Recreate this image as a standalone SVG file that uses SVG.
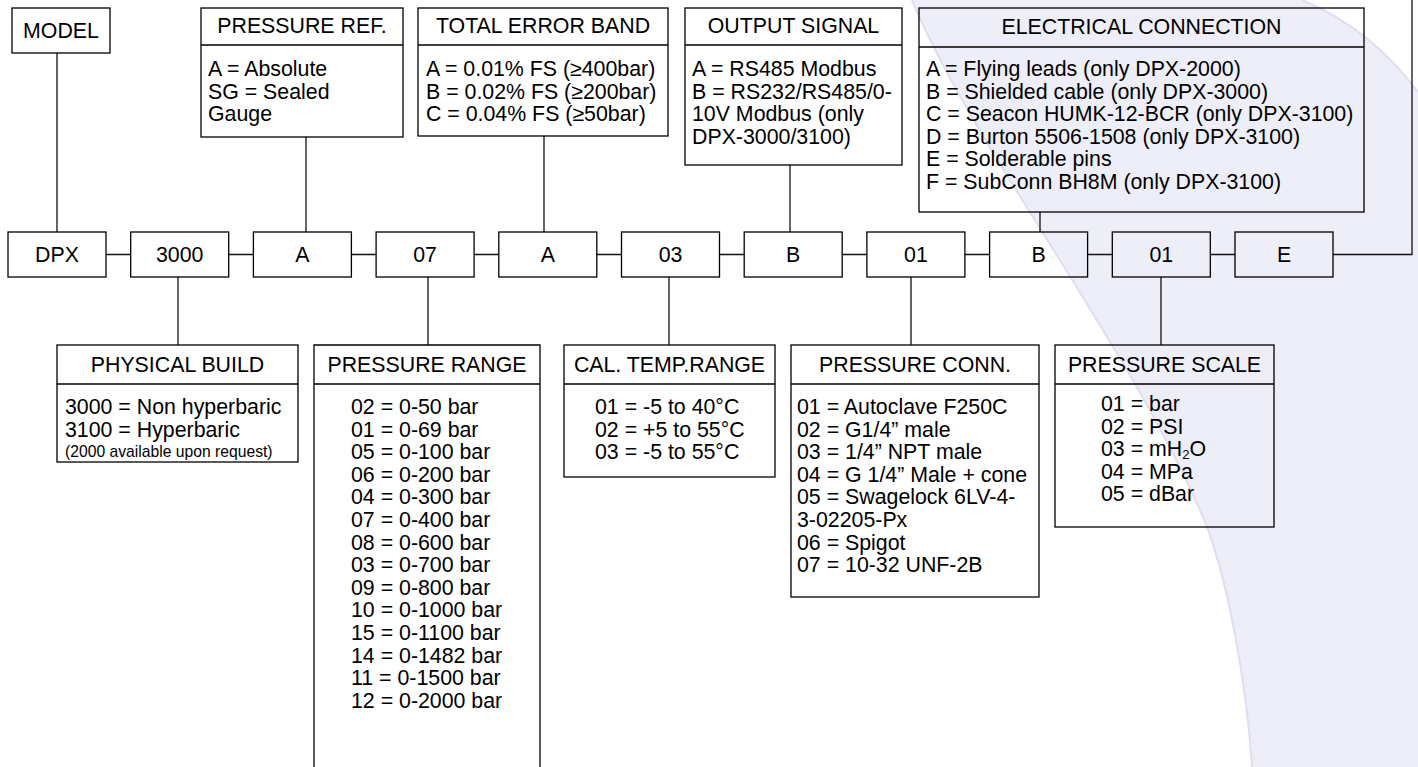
<svg xmlns="http://www.w3.org/2000/svg" width="1418" height="767" viewBox="0 0 1418 767">
<style>
.box{fill:none;stroke:#000;stroke-width:1.3}
.t{font-family:"Liberation Sans",Arial,sans-serif;font-size:21.33px;fill:#000}
.c{text-anchor:middle}
.s{font-size:15.7px}
.conn{stroke:#111;stroke-width:1.3;fill:none}
.edge{fill:none;stroke:#DEDEF2;stroke-width:2}
</style>
<rect x="0" y="0" width="1418" height="767" fill="#fff"/>
<path d="M912 0 C975 150 1120 330 1200 510 C1230 577 1248 700 1252 767 L1418 767 L1418 92 Q1370 28 1302 0 Z" fill="#EEEEF8"/>
<path class="edge" d="M912 0 C975 150 1120 330 1200 510 C1230 577 1248 700 1252 767"/>
<path class="edge" d="M1302 0 Q1370 28 1418 92" stroke="#E2E2F3"/>

<g id="connectors" class="conn">
<path d="M57 53V232"/>
<path d="M306 137V232"/>
<path d="M544 136V232"/>
<path d="M790 165V232"/>
<path d="M1040 212V232"/>
<path d="M178 277V345"/>
<path d="M428 277V345"/>
<path d="M669 277V345"/>
<path d="M911 277V345"/>
<path d="M1161 277V345"/>
<path d="M106 254.5H130.7M228.7 254.5H253.4M351.4 254.5H376.1M474.1 254.5H498.8M596.8 254.5H621.5M719.5 254.5H744.2M842.2 254.5H866.9M964.9 254.5H989.6M1087.6 254.5H1112.3M1210.3 254.5H1235"/>
<path d="M1333 254.5H1412V0"/>
</g>

<g id="model"><rect class="box" x="12" y="8" width="98" height="45"/><text class="t c" x="61" y="38">MODEL</text></g>

<g id="pressure-ref"><rect class="box" x="201" y="8" width="202" height="129"/><path class="box" d="M201 45H403"/>
<text class="t c" x="302" y="33">PRESSURE REF.</text>
<text class="t" x="208" y="76">A = Absolute</text>
<text class="t" x="208" y="98.6">SG = Sealed</text>
<text class="t" x="208" y="121.2">Gauge</text></g>

<g id="total-error-band"><rect class="box" x="418" y="8" width="250" height="128"/><path class="box" d="M418 45H668"/>
<text class="t c" x="543" y="33">TOTAL ERROR BAND</text>
<text class="t" x="426" y="76">A = 0.01% FS (≥400bar)</text>
<text class="t" x="426" y="98.6">B = 0.02% FS (≥200bar)</text>
<text class="t" x="426" y="121.2">C = 0.04% FS (≥50bar)</text></g>

<g id="output-signal"><rect class="box" x="685" y="8" width="217" height="157"/><path class="box" d="M685 45H902"/>
<text class="t c" x="793.5" y="33">OUTPUT SIGNAL</text>
<text class="t" x="692" y="76">A = RS485 Modbus</text>
<text class="t" x="692" y="98.6">B = RS232/RS485/0-</text>
<text class="t" x="692" y="121.2">10V Modbus (only</text>
<text class="t" x="692" y="143.8">DPX-3000/3100)</text></g>

<g id="electrical-connection"><rect class="box" x="919" y="8" width="445" height="204"/><path class="box" d="M919 47H1364"/>
<text class="t c" x="1141.5" y="34">ELECTRICAL CONNECTION</text>
<text class="t" x="926" y="76">A = Flying leads (only DPX-2000)</text>
<text class="t" x="926" y="98.6">B = Shielded cable (only DPX-3000)</text>
<text class="t" x="926" y="121.2">C = Seacon HUMK-12-BCR (only DPX-3100)</text>
<text class="t" x="926" y="143.8">D = Burton 5506-1508 (only DPX-3100)</text>
<text class="t" x="926" y="166.4">E = Solderable pins</text>
<text class="t" x="926" y="189">F = SubConn BH8M (only DPX-3100)</text></g>

<g id="code-dpx"><rect class="box" x="8" y="232" width="98" height="45"/><text class="t c" x="57" y="262">DPX</text></g>
<g id="code-3000"><rect class="box" x="130.7" y="232" width="98" height="45"/><text class="t c" x="179.7" y="262">3000</text></g>
<g id="code-a1"><rect class="box" x="253.4" y="232" width="98" height="45"/><text class="t c" x="302.4" y="262">A</text></g>
<g id="code-07"><rect class="box" x="376.1" y="232" width="98" height="45"/><text class="t c" x="425.1" y="262">07</text></g>
<g id="code-a2"><rect class="box" x="498.8" y="232" width="98" height="45"/><text class="t c" x="547.8" y="262">A</text></g>
<g id="code-03"><rect class="box" x="621.5" y="232" width="98" height="45"/><text class="t c" x="670.5" y="262">03</text></g>
<g id="code-b1"><rect class="box" x="744.2" y="232" width="98" height="45"/><text class="t c" x="793.2" y="262">B</text></g>
<g id="code-01a"><rect class="box" x="866.9" y="232" width="98" height="45"/><text class="t c" x="915.9" y="262">01</text></g>
<g id="code-b2"><rect class="box" x="989.6" y="232" width="98" height="45"/><text class="t c" x="1038.6" y="262">B</text></g>
<g id="code-01b"><rect class="box" x="1112.3" y="232" width="98" height="45"/><text class="t c" x="1161.3" y="262">01</text></g>
<g id="code-e"><rect class="box" x="1235" y="232" width="98" height="45"/><text class="t c" x="1284" y="262">E</text></g>

<g id="physical-build"><rect class="box" x="57" y="345" width="241" height="117"/><path class="box" d="M57 384H298"/>
<text class="t c" x="177.5" y="372">PHYSICAL BUILD</text>
<text class="t" x="65" y="414">3000 = Non hyperbaric</text>
<text class="t" x="65" y="436.6">3100 = Hyperbaric</text>
<text class="t s" x="65" y="456.6">(2000 available upon request)</text></g>

<g id="pressure-range"><path class="box" d="M314 780V345H540V780M314 384H540"/>
<text class="t c" x="427" y="372">PRESSURE RANGE</text>
<text class="t" x="351" y="414">02 = 0-50 bar</text>
<text class="t" x="351" y="436.6">01 = 0-69 bar</text>
<text class="t" x="351" y="459.2">05 = 0-100 bar</text>
<text class="t" x="351" y="481.8">06 = 0-200 bar</text>
<text class="t" x="351" y="504.4">04 = 0-300 bar</text>
<text class="t" x="351" y="527">07 = 0-400 bar</text>
<text class="t" x="351" y="549.6">08 = 0-600 bar</text>
<text class="t" x="351" y="572.2">03 = 0-700 bar</text>
<text class="t" x="351" y="594.8">09 = 0-800 bar</text>
<text class="t" x="351" y="617.4">10 = 0-1000 bar</text>
<text class="t" x="351" y="640">15 = 0-1100 bar</text>
<text class="t" x="351" y="662.6">14 = 0-1482 bar</text>
<text class="t" x="351" y="685.2">11 = 0-1500 bar</text>
<text class="t" x="351" y="707.8">12 = 0-2000 bar</text></g>

<g id="cal-temp-range"><rect class="box" x="564" y="345" width="211" height="132"/><path class="box" d="M564 384H775"/>
<text class="t c" x="669.5" y="372">CAL. TEMP.RANGE</text>
<text class="t" x="595" y="414">01 = -5 to 40°C</text>
<text class="t" x="595" y="436.6">02 = +5 to 55°C</text>
<text class="t" x="595" y="459.2">03 = -5 to 55°C</text></g>

<g id="pressure-conn"><rect class="box" x="791" y="345" width="248" height="252"/><path class="box" d="M791 384H1039"/>
<text class="t c" x="915" y="372">PRESSURE CONN.</text>
<text class="t" x="797" y="414">01 = Autoclave F250C</text>
<text class="t" x="797" y="436.6">02 = G1/4” male</text>
<text class="t" x="797" y="459.2">03 = 1/4” NPT male</text>
<text class="t" x="797" y="481.8">04 = G 1/4” Male + cone</text>
<text class="t" x="797" y="504.4">05 = Swagelock 6LV-4-</text>
<text class="t" x="797" y="527">3-02205-Px</text>
<text class="t" x="797" y="549.6">06 = Spigot</text>
<text class="t" x="797" y="572.2">07 = 10-32 UNF-2B</text></g>

<g id="pressure-scale"><rect class="box" x="1055" y="345" width="219" height="182"/><path class="box" d="M1055 384H1274"/>
<text class="t c" x="1164.5" y="372">PRESSURE SCALE</text>
<text class="t" x="1101" y="411">01 = bar</text>
<text class="t" x="1101" y="433.5">02 = PSI</text>
<text class="t" x="1101" y="456">03 = mH<tspan font-size="13px" dy="3">2</tspan><tspan dy="-3">O</tspan></text>
<text class="t" x="1101" y="478.5">04 = MPa</text>
<text class="t" x="1101" y="501">05 = dBar</text></g>
</svg>
